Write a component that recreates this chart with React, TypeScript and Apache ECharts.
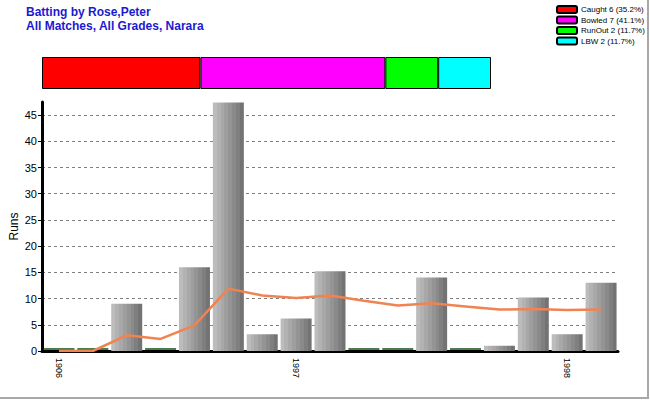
import React, { useEffect, useRef } from "react";
import * as echarts from "echarts";

const categories = ["0", "1", "2", "3", "4", "5", "6", "7", "8", "9", "10", "11", "12", "13", "14", "15", "16"];
const tickLabels = ["1906", "", "", "", "", "", "", "1997", "", "", "", "", "", "", "", "1998", ""];
const runs = [0, 0, 9, 0, 16, 47.4, 3.2, 6.2, 15.2, 0, 0, 14, 0, 1, 10.2, 3.2, 13];
const average = [0, 0, 3.0, 2.3, 4.9, 11.9, 10.6, 10.1, 10.6, 9.6, 8.7, 9.1, 8.5, 7.9, 8.0, 7.8, 7.9];
const outTypes = ["Caught", "Bowled", "RunOut", "LBW"];
const outCounts = [6, 7, 2, 2];
const outPercents = ["35.2", "41.1", "11.7", "11.7"];
const outColors = ["#ff0000", "#ff00ff", "#00ff00", "#00ffff"];

const FONT = "Arial, 'Liberation Sans', sans-serif";

const stripeColors = ["#bcbcbc", "#b2b2b2", "#a8a8a8", "#9e9e9e", "#949494", "#8a8a8a", "#7f7f7f", "#737373"];
function stripedFill() {
  const stops: { offset: number; color: string }[] = [];
  const n = stripeColors.length;
  stripeColors.forEach((c, i) => {
    stops.push({ offset: i / n, color: c });
    stops.push({ offset: (i + 1) / n - 0.0001, color: c });
  });
  return new echarts.graphic.LinearGradient(0, 0, 1, 0, stops);
}

export default function App() {
  const ref = useRef<HTMLDivElement>(null);
  useEffect(() => {
    if (!ref.current) return;
    const chart = echarts.init(ref.current, undefined, { renderer: "svg" });
    const legendNames = outTypes.map((t, i) => `${t} ${outCounts[i]} (${outPercents[i]}%)`);
    const zeroMarks = runs.map((v) => (v === 0 ? 0 : "-"));
    chart.setOption({
      animation: false,
      backgroundColor: "#ffffff",
      textStyle: { fontFamily: FONT },
      title: {
        text: "Batting by Rose,Peter\nAll Matches, All Grades, Narara",
        left: 26,
        top: 5,
        padding: 0,
        textStyle: { fontSize: 12, fontWeight: "bold", color: "#1a1ad2", lineHeight: 14, fontFamily: FONT },
      },
      legend: {
        data: legendNames,
        orient: "vertical",
        left: 556,
        top: 5,
        padding: 0,
        itemWidth: 20,
        itemHeight: 7,
        itemGap: 1.5,
        selectedMode: false,
        textStyle: { fontSize: 8, color: "#000", fontFamily: FONT, padding: [0, 0, 0, -1] },
      },
      grid: [
        { left: 42, top: 102, width: 576, height: 249, containLabel: false, outerBoundsMode: "none" },
        { left: 42, top: 57, width: 449, height: 32, containLabel: false, outerBoundsMode: "none" },
      ],
      xAxis: [
        {
          type: "category",
          gridIndex: 0,
          data: categories,
          axisLine: { lineStyle: { color: "#000", width: 3 } },
          axisTick: { alignWithLabel: true, interval: 0, length: 5, lineStyle: { color: "#000", width: 1 } },
          axisLabel: {
            interval: 0,
            rotate: -90,
            fontSize: 9,
            color: "#000",
            margin: 7,
            fontFamily: FONT,
            formatter: (_v: string, i: number) => tickLabels[i],
          },
          splitLine: { show: false },
        },
        {
          type: "value",
          gridIndex: 1,
          min: 0,
          max: outCounts.reduce((a, b) => a + b, 0),
          show: false,
        },
      ],
      yAxis: [
        {
          type: "value",
          gridIndex: 0,
          min: 0,
          max: 47.5,
          interval: 5,
          name: "Runs",
          nameLocation: "middle",
          nameGap: 22,
          nameMoveOverlap: false,
          nameTextStyle: { fontSize: 12, color: "#000", fontFamily: FONT },
          axisLine: { show: true, lineStyle: { color: "#000", width: 3 } },
          axisTick: { show: true, length: 4, lineStyle: { color: "#000", width: 1 } },
          axisLabel: { fontSize: 11, color: "#000", margin: 5, showMaxLabel: false, fontFamily: FONT },
          splitLine: { show: true, showMaxLine: false, showMinLine: false, lineStyle: { color: "#808080", type: [3, 3], width: 1 } },
        },
        {
          type: "category",
          gridIndex: 1,
          data: ["outs"],
          show: false,
        },
      ],
      series: [
        {
          type: "bar",
          name: "Runs",
          xAxisIndex: 0,
          yAxisIndex: 0,
          data: runs,
          barWidth: 31,
          itemStyle: { color: stripedFill() },
          z: 2,
        },
        {
          type: "scatter",
          name: "zero",
          xAxisIndex: 0,
          yAxisIndex: 0,
          data: zeroMarks,
          symbol: "rect",
          symbolSize: [31, 2],
          symbolOffset: [0, -2],
          itemStyle: { color: "#1f5a1f" },
          z: 3,
        },
        {
          type: "line",
          name: "Average",
          xAxisIndex: 0,
          yAxisIndex: 0,
          data: average,
          showSymbol: false,
          symbol: "none",
          lineStyle: { color: "#f08350", width: 2.5 },
          z: 4,
        },
        ...outTypes.map((_t, i) => ({
          type: "bar",
          name: legendNames[i],
          xAxisIndex: 1,
          yAxisIndex: 1,
          stack: "outs",
          data: [outCounts[i]],
          barWidth: 32,
          itemStyle: { color: outColors[i], borderColor: "#000", borderWidth: 1 },
        })),
      ],
      graphic: [
        { type: "line", shape: { x1: 648, y1: 0, x2: 648, y2: 399 }, style: { stroke: "#a8a8a8", lineWidth: 2 } },
        { type: "line", shape: { x1: 0, y1: 398, x2: 649, y2: 398 }, style: { stroke: "#a8a8a8", lineWidth: 2 } },
      ],
    });
    return () => chart.dispose();
  }, []);
  return (
    <div
      ref={ref}
      style={{ position: "fixed", left: 0, top: 0, width: 650, height: 400, background: "#fff" }}
    />
  );
}
